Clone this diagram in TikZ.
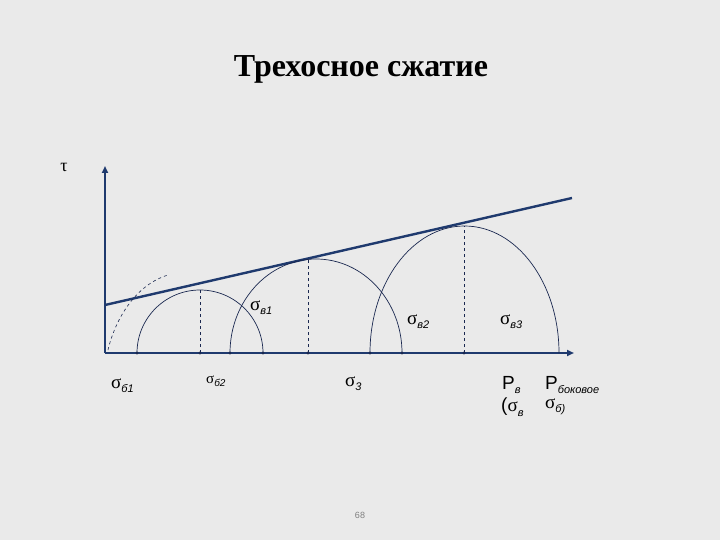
\documentclass[tikz,border=0pt]{standalone}
\usepackage{fontspec}
\setmainfont{Liberation Serif}
\newfontfamily\labelfont{Liberation Sans}
\usetikzlibrary{arrows.meta, positioning, calc}
\definecolor{axisblue}{HTML}{1F3A6E}
\definecolor{arcblue}{HTML}{1A2850}
\definecolor{bggray}{HTML}{EAEAEA}
% sigma with a small italic index
\newcommand{\sg}[2][11]{σ\raisebox{-0.5ex}{\labelfont\itshape\fontsize{#1}{#1}\selectfont #2}}
\newcommand{\pr}[1]{{\labelfont P}\raisebox{-0.5ex}{\labelfont\itshape\fontsize{11}{11}\selectfont #1}}

\begin{document}
\begin{tikzpicture}[x=1pt,y=-1pt,
    axis/.style={axisblue, line width=2.4pt},
    mohr/.style={arcblue, line width=0.7pt},
    guide/.style={arcblue, dashed, line width=0.6pt},
    lbl/.style={inner sep=0pt, anchor=west, font=\fontsize{19}{19}\selectfont}]
    % page and background
    \fill[bggray] (0,0) rectangle (720,540);
    \useasboundingbox (0,0) rectangle (720,540);

    % title
    \node[font=\bfseries\fontsize{32}{38}\selectfont] (title) at (361,69) {Трехосное сжатие};

    % axes
    \coordinate (O) at (105,353);
    \coordinate (tauend) at (105,166);
    \coordinate (sigend) at (574,353);
    \draw[axis, -{Triangle[length=7pt,width=6pt]}] (O) -- (tauend);
    \draw[axis, -{Triangle[length=7pt,width=6pt]}] (O) -- (sigend);
    \node[font=\fontsize{18}{18}\selectfont] (tau) at (64,167) {τ};

    % envelope line
    \coordinate (envA) at (105,305);
    \coordinate (envB) at (572,198);
    \draw[axis] (envA) -- (envB);

    % dashed starting curve
    \draw[guide] (108,350) .. controls (115,320) and (135,285) .. (168,275);

    % Mohr half circles
    \draw[mohr] (137,353) arc[start angle=180, end angle=360, x radius=63, y radius=63];
    \draw[mohr] (230,353) arc[start angle=180, end angle=360, x radius=86, y radius=94];
    \draw[mohr] (370,353) arc[start angle=180, end angle=360, x radius=94.5, y radius=127];

    % dashed radii
    \draw[guide] (200,353) -- (200,290);
    \draw[guide] (308,353) -- (308,259);
    \draw[guide] (464,353) -- (464,226);

    % marks on the axis
    \foreach \xm in {137,200,230,263,308,370,402,464}
        \fill[arcblue] (\xm,353) circle (1.6);

    % labels
    \node[lbl] (sv1) at (250,308) {\sg{в1}};
    \node[lbl] (sv2) at (407,322) {\sg{в2}};
    \node[lbl] (sv3) at (500,322) {\sg{в3}};
    \node[lbl] (sb1) at (111,386) {\sg{б1}};
    \node[lbl, font=\fontsize{15}{15}\selectfont] (sb2) at (206,381) {\sg[10]{б2}};
    \node[lbl] (s3) at (345,384) {\sg{3}};
    \node[lbl] (pv) at (502,385) {\pr{в}};
    \node[lbl] (spv) at (501,407) {{\labelfont(}\sg{в}};
    \node[lbl] (pb) at (545,385) {\pr{боковое}};
    \node[lbl] (spb) at (545,407) {\sg{б)}};

    % page number
    \node[gray, font=\labelfont\fontsize{9}{9}\selectfont] (pagenum) at (360,515) {68};
\end{tikzpicture}
\end{document}
